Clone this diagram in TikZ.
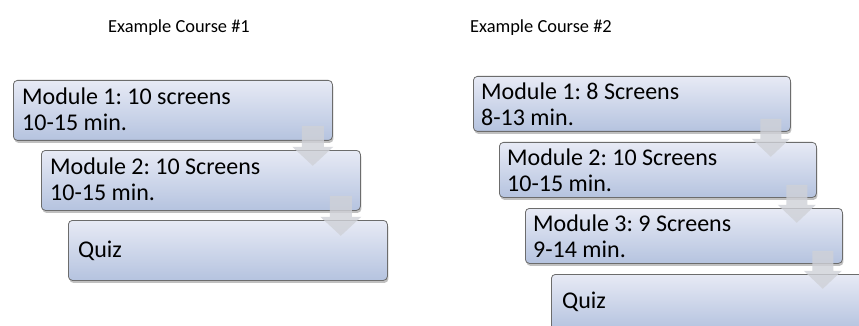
\documentclass[tikz,border=0pt]{standalone}
\usepackage{fontspec}
\setmainfont{Carlito}
\usetikzlibrary{shadows,calc}
\frenchspacing
\definecolor{boxtop}{HTML}{E7EAF5}
\definecolor{boxbot}{HTML}{B5C3DF}
\definecolor{boxline}{HTML}{6C6C6C}
\definecolor{arrowc}{HTML}{CFD1D7}
\tikzset{
  modbox/.style={draw=boxline, line width=0.8pt, rounded corners=4pt,
    top color=boxtop, bottom color=boxbot,
    drop shadow={shadow xshift=1pt, shadow yshift=-2.5pt, opacity=0.35, fill=black!70},
    anchor=north west, inner sep=0pt},
  boxA/.style={modbox, minimum width=319pt, minimum height=60pt},
  boxB/.style={modbox, minimum width=317pt, minimum height=55pt},
  modtext/.style={anchor=west, align=left, inner sep=0pt,
    font=\fontsize{24}{26}\selectfont},
  title/.style={anchor=base, inner sep=0pt, font=\fontsize{18.4}{20}\selectfont},
  arrowfill/.style={fill=arrowc, opacity=0.8}
}
% #1 node, #2 stem half width, #3 head half width, #4 stem top, #5 head base, #6 tip
\newcommand\flowarrow[6]{%
  \fill[arrowfill]
    ($(#1.south east)+(-20-#2,#4)$) -- ($(#1.south east)+(-20+#2,#4)$) --
    ($(#1.south east)+(-20+#2,#5)$) -- ($(#1.south east)+(-20+#3,#5)$) --
    ($(#1.south east)+(-20,#6)$) -- ($(#1.south east)+(-20-#3,#5)$) --
    ($(#1.south east)+(-20-#2,#5)$) -- cycle;}
\begin{document}
\begin{tikzpicture}[x=1pt, y=-1pt]
  \clip (0,0) rectangle (859,326);
  \fill[white] (0,0) rectangle (859,326);
  % titles
  \node[title] (t1) at (179,33) {Example Course \#1};
  \node[title] (t2) at (541,33) {Example Course \#2};
  % course 1
  \node[boxA] (a1) at (13,80) {};
  \node[modtext] (a1t) at ($(a1.west)+(9,-1)$) {Module 1: 10 screens\\10-15 min.};
  \node[boxA] (a2) at (41,150) {};
  \node[modtext] (a2t) at ($(a2.west)+(9,-1)$) {Module 2: 10 Screens\\10-15 min.};
  \node[boxA] (a3) at (68,220) {};
  \node[modtext] (a3t) at ($(a3.west)+(10,0)$) {Quiz};
  \flowarrow{a1}{11}{20.5}{-15}{6}{25}
  \flowarrow{a2}{11}{20.5}{-15}{6}{25}
  % course 2
  \node[boxB] (b1) at (473,76) {};
  \node[modtext] (b1t) at ($(b1.west)+(8,0)$) {Module 1: 8 Screens\\8-13 min.};
  \node[boxB] (b2) at (499,142) {};
  \node[modtext] (b2t) at ($(b2.west)+(8,0)$) {Module 2: 10 Screens\\10-15 min.};
  \node[boxB] (b3) at (525,208) {};
  \node[modtext] (b3t) at ($(b3.west)+(8,0)$) {Module 3: 9 Screens\\9-14 min.};
  \node[boxB] (b4) at (551,274) {};
  \node[modtext] (b4t) at ($(b4.west)+(11,0)$) {Quiz};
  \flowarrow{b1}{10.5}{19}{-13}{7}{25}
  \flowarrow{b2}{10.5}{19}{-13}{7}{25}
  \flowarrow{b3}{10.5}{19}{-13}{7}{25}
\end{tikzpicture}
\end{document}
